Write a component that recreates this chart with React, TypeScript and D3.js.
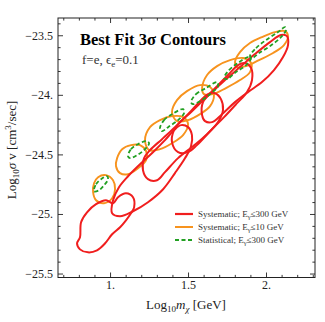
import React from "react";
import * as d3 from "d3";

// ---- data (Log10 m [GeV], Log10 sigma v) ----
const xDomain = [0.663, 2.311];
const yDomain = [-23.351, -25.529];
const xMajor = [1, 1.5, 2];
const xMajorLabels = ["1.", "1.5", "2."];
const yMajor = [-23.5, -24, -24.5, -25, -25.5];
const yMajorLabels = ["\u221223.5", "\u221224.", "\u221224.5", "\u221225.", "\u221225.5"];
const xMinor = [0.7, 0.8, 0.9, 1.1, 1.2, 1.3, 1.4, 1.6, 1.7, 1.8, 1.9, 2.1, 2.2, 2.3];
const yMinor = [-23.4, -23.6, -23.7, -23.8, -23.9, -24.1, -24.2, -24.3, -24.4, -24.6, -24.7, -24.8, -24.9, -25.1, -25.2, -25.3, -25.4];

// Systematic; E<=300 GeV (red)
const red1 = [[0.804,-25.192],[0.811,-25.065],[0.849,-24.982],[0.907,-24.914],[0.971,-24.881],[1.016,-24.906],[1.048,-24.855],[1.099,-24.822],[1.144,-24.855],[1.151,-24.940],[1.131,-24.990],[1.099,-25.049],[1.061,-25.107],[1.010,-25.166],[0.965,-25.242],[0.913,-25.301],[0.856,-25.318],[0.804,-25.293],[0.785,-25.242]];
const red2 = [[1.010,-24.990],[1.016,-24.881],[1.054,-24.771],[1.112,-24.679],[1.189,-24.578],[1.272,-24.477],[1.349,-24.376],[1.407,-24.292],[1.452,-24.250],[1.497,-24.267],[1.522,-24.334],[1.516,-24.427],[1.478,-24.527],[1.413,-24.653],[1.337,-24.788],[1.240,-24.897],[1.144,-24.973],[1.061,-25.015]];
const red3 = [[1.208,-24.629],[1.215,-24.527],[1.253,-24.460],[1.330,-24.368],[1.413,-24.267],[1.497,-24.158],[1.574,-24.049],[1.625,-23.990],[1.670,-23.982],[1.708,-24.032],[1.721,-24.124],[1.689,-24.225],[1.619,-24.326],[1.529,-24.427],[1.433,-24.527],[1.349,-24.645],[1.298,-24.713],[1.240,-24.704]];
const red4 = [[1.394,-24.393],[1.407,-24.292],[1.446,-24.225],[1.522,-24.133],[1.606,-24.024],[1.689,-23.914],[1.766,-23.813],[1.817,-23.746],[1.862,-23.729],[1.901,-23.771],[1.907,-23.872],[1.875,-23.973],[1.811,-24.066],[1.728,-24.183],[1.638,-24.301],[1.554,-24.418],[1.497,-24.477],[1.433,-24.477]];
const red5 = [[1.587,-24.166],[1.593,-24.057],[1.651,-23.973],[1.734,-23.872],[1.830,-23.763],[1.926,-23.654],[2.022,-23.553],[2.093,-23.494],[2.131,-23.503],[2.138,-23.578],[2.106,-23.679],[2.048,-23.788],[1.971,-23.889],[1.881,-23.973],[1.798,-24.057],[1.715,-24.158],[1.651,-24.225],[1.606,-24.217]];

// Systematic; E<=10 GeV (orange)
const orange1 = [[0.920,-24.687],[0.971,-24.670],[1.016,-24.713],[1.029,-24.788],[1.010,-24.864],[0.958,-24.906],[0.907,-24.881],[0.888,-24.813],[0.894,-24.738]];
const orange2 = [[1.042,-24.527],[1.074,-24.452],[1.131,-24.418],[1.189,-24.418],[1.228,-24.469],[1.228,-24.544],[1.176,-24.612],[1.112,-24.662],[1.061,-24.653],[1.035,-24.595]];
const orange3 = [[1.221,-24.376],[1.253,-24.267],[1.317,-24.208],[1.394,-24.175],[1.465,-24.183],[1.497,-24.242],[1.465,-24.334],[1.394,-24.402],[1.317,-24.452],[1.247,-24.460]];
const orange4 = [[1.394,-24.141],[1.426,-24.040],[1.490,-23.965],[1.574,-23.914],[1.638,-23.931],[1.663,-23.998],[1.638,-24.091],[1.574,-24.158],[1.497,-24.208],[1.426,-24.217]];
const orange5 = [[1.587,-23.939],[1.619,-23.830],[1.683,-23.755],[1.766,-23.704],[1.849,-23.687],[1.901,-23.729],[1.894,-23.805],[1.830,-23.872],[1.740,-23.939],[1.657,-23.990],[1.599,-23.990]];
const orange6 = [[1.798,-23.721],[1.830,-23.637],[1.894,-23.561],[1.971,-23.511],[2.054,-23.469],[2.119,-23.461],[2.138,-23.503],[2.112,-23.578],[2.042,-23.645],[1.952,-23.704],[1.869,-23.755],[1.811,-23.763]];

// Statistical; E<=300 GeV (green dashed)
const green1 = [[0.894,-24.805],[0.907,-24.746],[0.939,-24.704],[0.978,-24.679],[0.984,-24.704],[0.958,-24.755],[0.926,-24.797]];
const green2 = [[1.112,-24.511],[1.131,-24.452],[1.176,-24.410],[1.228,-24.385],[1.247,-24.402],[1.221,-24.452],[1.170,-24.502],[1.125,-24.527]];
const green3 = [[1.317,-24.276],[1.343,-24.208],[1.394,-24.158],[1.465,-24.116],[1.471,-24.150],[1.433,-24.208],[1.369,-24.267],[1.330,-24.301]];
const green4 = [[1.516,-24.057],[1.548,-23.990],[1.612,-23.939],[1.683,-23.889],[1.689,-23.923],[1.638,-23.990],[1.574,-24.049],[1.529,-24.074]];
const green5 = [[1.728,-23.855],[1.760,-23.788],[1.817,-23.729],[1.881,-23.679],[1.901,-23.687],[1.869,-23.746],[1.804,-23.805],[1.747,-23.864]];
const green6 = [[1.894,-23.671],[1.933,-23.603],[1.997,-23.536],[2.074,-23.469],[2.119,-23.427],[2.125,-23.452],[2.087,-23.519],[2.022,-23.587],[1.952,-23.645],[1.907,-23.687]];

const redContours = [red1, red2, red3, red4, red5];
const orangeContours = [orange1, orange2, orange3, orange4, orange5, orange6];
const greenContours = [green1, green2, green3, green4, green5, green6];

const RED = "#f01e1e";
const ORANGE = "#f7931e";
const GREEN = "#22a022";
const FONT = "'Liberation Serif', 'Times New Roman', serif";

export default function App() {
  const W = 325, H = 322;
  const L = 58, R = 315, T = 18, B = 277.5;
  const x = d3.scaleLinear().domain(xDomain).range([L, R]);
  const y = d3.scaleLinear().domain(yDomain).range([T, B]);
  const line = d3
    .line<number[]>()
    .x((d) => x(d[0]))
    .y((d) => y(d[1]))
    .curve(d3.curveCatmullRomClosed.alpha(0.5));

  const majLen = 5, minLen = 2.6;
  const tickColor = "#222";

  const legendItems = [
    { color: RED, dash: undefined, w: 2.2, a: "Systematic; E", b: "\u2264300 GeV" },
    { color: ORANGE, dash: undefined, w: 2, a: "Systematic; E", b: "\u226410 GeV" },
    { color: GREEN, dash: "4,2.5", w: 2, a: "Statistical; E", b: "\u2264300 GeV" },
  ];

  return (
    <svg
      width={W}
      height={H}
      style={{ position: "absolute", left: 0, top: 0, background: "#fff" }}
      fontFamily={FONT}
    >
      <rect x={0} y={0} width={W} height={H} fill="#fff" />
      <defs>
        <clipPath id="plotclip">
          <rect x={L} y={T} width={R - L} height={B - T} />
        </clipPath>
      </defs>

      <g clipPath="url(#plotclip)" fill="none" strokeLinejoin="round">
        {orangeContours.map((c, i) => (
          <path key={"o" + i} d={line(c) || ""} stroke={ORANGE} strokeWidth={1.9} />
        ))}
        {redContours.map((c, i) => (
          <path key={"r" + i} d={line(c) || ""} stroke={RED} strokeWidth={2} />
        ))}
        {greenContours.map((c, i) => (
          <path key={"g" + i} d={line(c) || ""} stroke={GREEN} strokeWidth={1.8} strokeDasharray="4,2.5" />
        ))}
      </g>

      {/* frame */}
      <rect x={L} y={T} width={R - L} height={B - T} fill="none" stroke={tickColor} strokeWidth={1} />

      {/* ticks */}
      <g stroke={tickColor} strokeWidth={0.9}>
        {xMajor.map((v) => (
          <g key={"xm" + v}>
            <line x1={x(v)} x2={x(v)} y1={B} y2={B - majLen} />
            <line x1={x(v)} x2={x(v)} y1={T} y2={T + majLen} />
          </g>
        ))}
        {xMinor.map((v) => (
          <g key={"xn" + v}>
            <line x1={x(v)} x2={x(v)} y1={B} y2={B - minLen} />
            <line x1={x(v)} x2={x(v)} y1={T} y2={T + minLen} />
          </g>
        ))}
        {yMajor.map((v) => (
          <g key={"ym" + v}>
            <line x1={L} x2={L + majLen} y1={y(v)} y2={y(v)} />
            <line x1={R} x2={R - majLen} y1={y(v)} y2={y(v)} />
          </g>
        ))}
        {yMinor.map((v) => (
          <g key={"yn" + v}>
            <line x1={L} x2={L + minLen} y1={y(v)} y2={y(v)} />
            <line x1={R} x2={R - minLen} y1={y(v)} y2={y(v)} />
          </g>
        ))}
      </g>

      {/* tick labels */}
      <g fontSize={12} fill="#222">
        {xMajor.map((v, i) => (
          <text key={"xl" + v} x={x(v)} y={289} textAnchor="middle">
            {xMajorLabels[i]}
          </text>
        ))}
        {yMajor.map((v, i) => (
          <text key={"yl" + v} x={53} y={y(v) + 4} textAnchor="end">
            {yMajorLabels[i]}
          </text>
        ))}
      </g>

      {/* axis labels */}
      <text x={186} y={309} textAnchor="middle" fontSize={13} fill="#222">
        Log<tspan fontSize={9} dy={3}>10</tspan>
        <tspan dy={-3} fontStyle="italic">m</tspan>
        <tspan fontSize={9} dy={3} fontStyle="italic">{"\u03c7"}</tspan>
        <tspan dy={-3}> [GeV]</tspan>
      </text>
      <text
        transform={`translate(16,150) rotate(-90)`}
        textAnchor="middle"
        fontSize={13}
        fill="#222"
      >
        Log<tspan fontSize={9} dy={3}>10</tspan>
        <tspan dy={-3} fontStyle="italic">{"\u03c3"}</tspan>
        <tspan> v [cm</tspan>
        <tspan fontSize={9} dy={-5}>3</tspan>
        <tspan dy={5}>/sec]</tspan>
      </text>

      {/* title */}
      <text x={80} y={45} fontSize={16.5} fontWeight="bold" fill="#000">
        Best Fit 3{"\u03c3"} Contours
      </text>
      <text x={82} y={64} fontSize={13} fill="#333">
        f=e, {"\u03f5"}
        <tspan fontSize={9} dy={3}>e</tspan>
        <tspan dy={-3}>=0.1</tspan>
      </text>

      {/* legend */}
      {legendItems.map((it, i) => {
        const ly = 214 + i * 13;
        return (
          <g key={"leg" + i}>
            <line x1={175} x2={193} y1={ly} y2={ly} stroke={it.color} strokeWidth={it.w} strokeDasharray={it.dash} />
            <text x={198} y={ly + 3} fontSize={9} fill="#333">
              {it.a}
              <tspan fontSize={6.5} dy={2}>{"\u03b3"}</tspan>
              <tspan dy={-2}>{it.b}</tspan>
            </text>
          </g>
        );
      })}
    </svg>
  );
}
